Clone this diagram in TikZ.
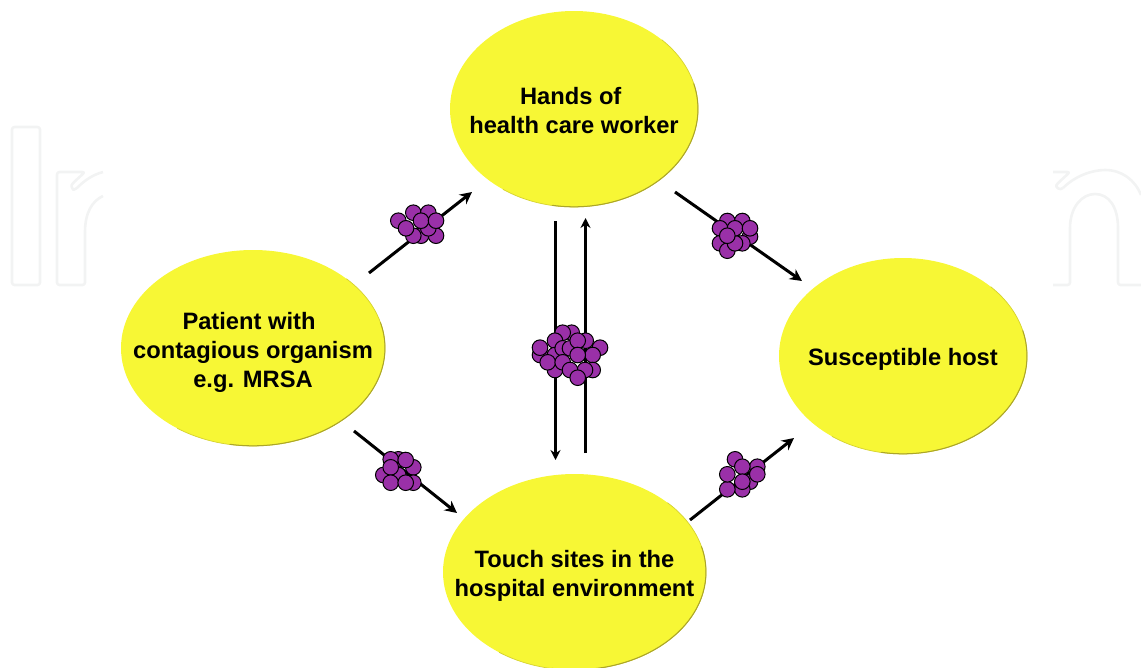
\documentclass[tikz,border=0pt]{standalone}
\usepackage{fontspec}
\setmainfont{Liberation Sans}
\usetikzlibrary{arrows.meta,shapes.geometric}
\definecolor{hostyellow}{HTML}{F7F735}
\definecolor{hostedge}{HTML}{ABA52A}
\definecolor{germ}{HTML}{9A30A8}
\definecolor{wm}{HTML}{F2F3F3}
\tikzset{
  site/.style={ellipse,draw=none,fill=hostyellow,inner sep=0pt},
  sitetext/.style={align=center,font=\fontsize{23.7}{29}\selectfont\bfseries,text=black},
  route/.style={draw=black,line width=3pt,-{Stealth[length=12pt,width=12pt]}},
  thinroute/.style={draw=black,line width=2.9pt,-{Stealth[length=10pt,width=10pt]}},
  bub/.style={draw=black,fill=germ,line width=1pt},
  wmark/.style={draw=wm,line width=2.6pt,line join=round}
}
\newcommand{\germcluster}[1]{\foreach \gx/\gy in {#1}{\draw[bub] (\gx,\gy) circle (7.8);}}
\newcommand{\siteshade}[2]{%
  \draw[hostedge!45!hostyellow,line width=0.7pt] (#1.center) ++(125:#2 and 98) arc[start angle=125,end angle=-45,x radius=#2,y radius=98];
  \draw[hostedge,line width=1pt,line cap=round] (#1.center) ++(100:#2 and 97.8) arc[start angle=100,end angle=-15,x radius=#2,y radius=97.8];}
\begin{document}
\begin{tikzpicture}[x=1pt,y=-1pt]
\useasboundingbox (0,0) rectangle (1141,667);
% watermark
\begin{scope}
\clip (0,0) rectangle (1141,667);
\draw[wmark,rounded corners=2.5pt] (12,127) rectangle (40,285);
\draw[wmark,rounded corners=2.5pt] (103,172) .. controls (92,175) and (84,181) .. (76,189)
  .. controls (73,190) and (71,186) .. (73,183) -- (85,172) -- (57,172) -- (57,285) -- (85,285) -- (85,232);
\draw[wmark] (85,232) .. controls (85,213) and (92,201) .. (103,196);
\draw[wmark,rounded corners=2.5pt] (1053,172) -- (1070,172) -- (1058,183) .. controls (1055,187) and (1060,191) .. (1063,188);
\draw[wmark] (1063,188) .. controls (1075,176) and (1092,170) .. (1105,170) .. controls (1122,170) and (1135,180) .. (1141,195);
\draw[wmark,rounded corners=2.5pt] (1053,285) -- (1070,285) -- (1070,228);
\draw[wmark] (1070,228) .. controls (1070,207) and (1082,194) .. (1095,194) .. controls (1109,194) and (1118,207) .. (1118,228);
\draw[wmark,rounded corners=2.5pt] (1118,228) -- (1118,285) -- (1141,285);
\end{scope}
% sites
\node[site,minimum width=248pt,minimum height=196pt,label={[sitetext,yshift=-1.5pt]center:Hands of\hspace*{6.6pt}\\health care worker}] (hands) at (574,109) {};
\node[site,minimum width=264pt,minimum height=196pt,label={[sitetext,yshift=-4pt]center:Patient with\hspace*{8pt}\\contagious organism\\e.g. MRSA}] (patient) at (253,348) {};
\node[site,minimum width=248pt,minimum height=196pt,label={[sitetext,yshift=-3pt]center:Susceptible host}] (host) at (903,356) {};
\node[site,minimum width=263pt,minimum height=196pt,label={[sitetext,yshift=-4pt]center:Touch sites in the\\hospital environment}] (touch) at (574.5,572) {};
% connector ends
\coordinate (a1) at (369,273); \coordinate (a2) at (472,192);
\coordinate (b1) at (675,192); \coordinate (b2) at (802,281);
\coordinate (c1) at (354,431); \coordinate (c2) at (457,513);
\coordinate (d1) at (690,520); \coordinate (d2) at (794,438);
\coordinate (e1) at (555.5,221); \coordinate (e2) at (555.5,460);
\coordinate (f1) at (585.5,453); \coordinate (f2) at (585.5,218);
\draw[route] (a1) -- (a2);
\draw[route] (b1) -- (b2);
\draw[route] (c1) -- (c2);
\draw[route] (d1) -- (d2);
\draw[thinroute] (e1) -- (e2);
\draw[thinroute] (f1) -- (f2);
% germ clusters
\germcluster{398.3/220.7,413.3/212.7,428.3/212.7,436/235.7,421/235.7,413.3/235.7,428.3/228.3,406/228.3,421/220.7,436/220.7}
\germcluster{727.3/221,742.3/221,720/228.3,750/236.7,720/243.3,727.3/250.7,742.3/243.3,735/243.3,735/228.3,750/228.3,727.3/235.7}
\germcluster{398.3/459.3,390.7/459.3,413.3/467.3,383.3/475,398.3/475,413.3/482.7,390.7/467.3,405.7/460,390.7/482.7,405.7/482.7}
\germcluster{735/459.3,757.3/466.7,750/481.7,742.3/489.3,727.3/489.3,727.3/474.3,742.3/466.7,757.3/474.3,742.3/481.7}
\germcluster{540/355,540/347.7,571.7/332.7,562.7/332.7,585.7/340.7,555/340.7,600/347.7,592.7/355,555/355,562.7/348.3,570/348.3,577.7/340.7,577.7/355,555/370,547.7/362.3,562.7/362.3,592.7/370,585/370,570/370,577.7/377.7}
% shaded rim, lower right of each site
\siteshade{hands}{124}
\siteshade{patient}{132}
\siteshade{host}{124}
\siteshade{touch}{131.5}
\end{tikzpicture}
\end{document}
